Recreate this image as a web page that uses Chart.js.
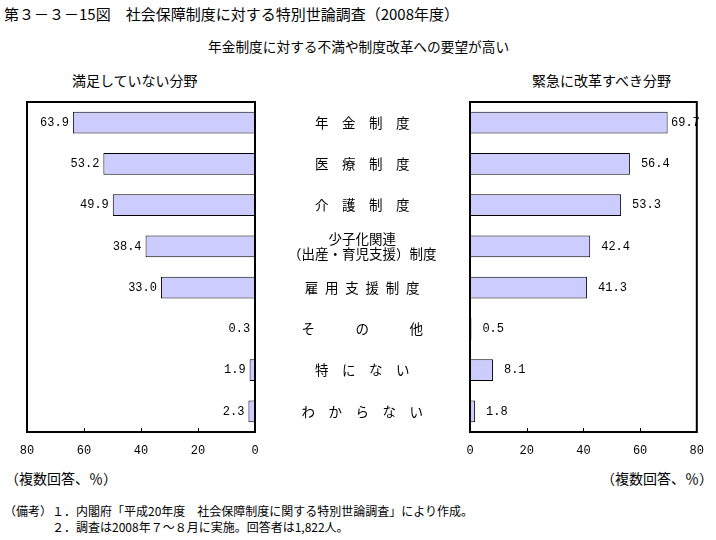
<!DOCTYPE html>
<html>
<head>
<meta charset="utf-8">
<script src="https://cdn.jsdelivr.net/npm/chart.js@4/dist/chart.umd.min.js"></script>
<style>
  body { margin: 0; background: #fff; font-family: "Noto Sans CJK JP", sans-serif; color: #000; }
  #wrap { position: relative; width: 716px; height: 540px; overflow: hidden; }
  .t { position: absolute; font-size: 14px; white-space: pre; line-height: 1; }
  canvas { position: absolute; }
</style>
</head>
<body>
<div id="wrap">
  <div class="t" style="left:4px; top:6px; font-size:15px;">第３－３－15図　社会保障制度に対する特別世論調査（2008年度）</div>
  <div class="t" style="left:208px; top:40px; font-size:13.7px;">年金制度に対する不満や制度改革への要望が高い</div>
  <div class="t" style="left:72px; top:73px;">満足していない分野</div>
  <div class="t" style="left:532px; top:73px;">緊急に改革すべき分野</div>
  <div class="t" style="left:5px; top:471px;">（複数回答、％）</div>
  <div class="t" style="left:601px; top:471px;">（複数回答、％）</div>
  <div class="t" style="left:4px; top:505px; font-size:12px;">（備考）１．内閣府「平成20年度　社会保障制度に関する特別世論調査」により作成。</div>
  <div class="t" style="left:4px; top:521px; font-size:12px;">　　　　２．調査は2008年７～８月に実施。回答者は1,822人。</div>
  <div style="position:absolute; left:0; top:90px; width:470px; height:380px;"><canvas id="leftChart"></canvas></div>
  <div style="position:absolute; left:440px; top:90px; width:276px; height:380px;"><canvas id="rightChart"></canvas></div>
</div>
<script>
// categories (middle labels)
const categories = [
    '年　金　制　度',
    '医　療　制　度',
    '介　護　制　度',
    ['少子化関連', '（出産・育児支援）制度'],
    '雇\u2002用\u2002支\u2002援\u2002制\u2002度',
    'そ　　　の　　　他',
    '特　に　な　い',
    'わ　か　ら　な　い'
];
// 満足していない分野 (%)
const notSatisfied = [63.9, 53.2, 49.9, 38.4, 33.0, 0.3, 1.9, 2.3];
// 緊急に改革すべき分野 (%)
const urgentReform = [69.7, 56.4, 53.3, 42.4, 41.3, 0.5, 8.1, 1.8];
const tickValues = [0, 20, 40, 60, 80];

const barFill = '#ccccff';
const numFont = '12px "Liberation Mono", monospace';

// frame around plot area + inward tick marks
const framePlugin = {
    id: 'frame',
    afterDraw(chart) {
        const a = chart.chartArea;
        const ctx = chart.ctx;
        const xs = chart.scales.x;
        ctx.save();
        ctx.strokeStyle = '#000';
        ctx.lineWidth = 2;
        ctx.strokeRect(a.left, a.top, a.right - a.left, a.bottom - a.top);
        ctx.lineWidth = 1;
        tickValues.slice(1, -1).forEach(v => {
            const x = Math.round(xs.getPixelForValue(v)) + 0.5;
            ctx.beginPath();
            ctx.moveTo(x, a.bottom);
            ctx.lineTo(x, a.bottom - 4);
            ctx.stroke();
        });
        ctx.restore();
    }
};

// value labels next to bar ends
const valuePlugin = {
    id: 'values',
    afterDatasetsDraw(chart, args, opts) {
        const ctx = chart.ctx;
        const a = chart.chartArea;
        const meta = chart.getDatasetMeta(0);
        const data = chart.data.datasets[0].data;
        ctx.save();
        ctx.font = numFont;
        ctx.fillStyle = '#000';
        ctx.textBaseline = 'middle';
        meta.data.forEach((bar, i) => {
            const txt = data[i].toFixed(1);
            const w = ctx.measureText(txt).width;
            if (opts.side === 'left') {
                ctx.textAlign = 'right';
                ctx.fillText(txt, bar.x - 4, bar.y);
            } else {
                ctx.textAlign = 'left';
                const x = Math.min(bar.x + 11, a.right - w + 3);
                ctx.fillText(txt, x, bar.y);
            }
        });
        ctx.restore();
    }
};

function xAxis(reverse) {
    return {
        type: 'linear',
        min: 0,
        max: 80,
        reverse: reverse,
        afterBuildTicks(scale) {
            scale.ticks = tickValues.map(v => ({ value: v }));
        },
        afterFit(scale) { scale.height = 38; },
        grid: { display: false, drawTicks: false },
        border: { display: true, color: '#000', width: 2 },
        ticks: { font: { family: 'Liberation Mono', size: 12 }, color: '#000', padding: 12, maxRotation: 0 }
    };
}

new Chart(document.getElementById('leftChart'), {
    type: 'bar',
    data: {
        labels: categories,
        datasets: [{
            data: notSatisfied,
            backgroundColor: barFill,
            borderColor: '#000',
            borderWidth: 1,
            barPercentage: 0.53,
            categoryPercentage: 1
        }]
    },
    options: {
        indexAxis: 'y',
        responsive: true,
        maintainAspectRatio: false,
        animation: false,
        layout: { padding: { left: 27, top: 12, right: 0, bottom: 0 } },
        plugins: { legend: { display: false }, tooltip: { enabled: false }, values: { side: 'left' } },
        scales: {
            x: xAxis(true),
            y: {
                position: 'right',
                afterFit(scale) {
                    // middle label column; keep tick padding from pushing the plot down
                    scale.width = 215;
                    scale.paddingTop = 0;
                    scale.paddingBottom = 0;
                },
                grid: { display: false, drawTicks: false },
                border: { display: true, color: '#000', width: 2 },
                ticks: {
                    crossAlign: 'center',
                    padding: 33,
                    color: '#000',
                    font: { family: 'Noto Sans CJK JP', size: 13.5, lineHeight: 1.1 }
                }
            }
        }
    },
    plugins: [framePlugin, valuePlugin]
});

new Chart(document.getElementById('rightChart'), {
    type: 'bar',
    data: {
        labels: categories,
        datasets: [{
            data: urgentReform,
            backgroundColor: barFill,
            borderColor: '#000',
            borderWidth: 1,
            barPercentage: 0.53,
            categoryPercentage: 1
        }]
    },
    options: {
        indexAxis: 'y',
        responsive: true,
        maintainAspectRatio: false,
        animation: false,
        layout: { padding: { left: 30, top: 12, right: 16, bottom: 0 } },
        plugins: { legend: { display: false }, tooltip: { enabled: false }, values: { side: 'right' } },
        scales: {
            x: xAxis(false),
            y: { display: false }
        }
    },
    plugins: [framePlugin, valuePlugin]
});
</script>
</body>
</html>
